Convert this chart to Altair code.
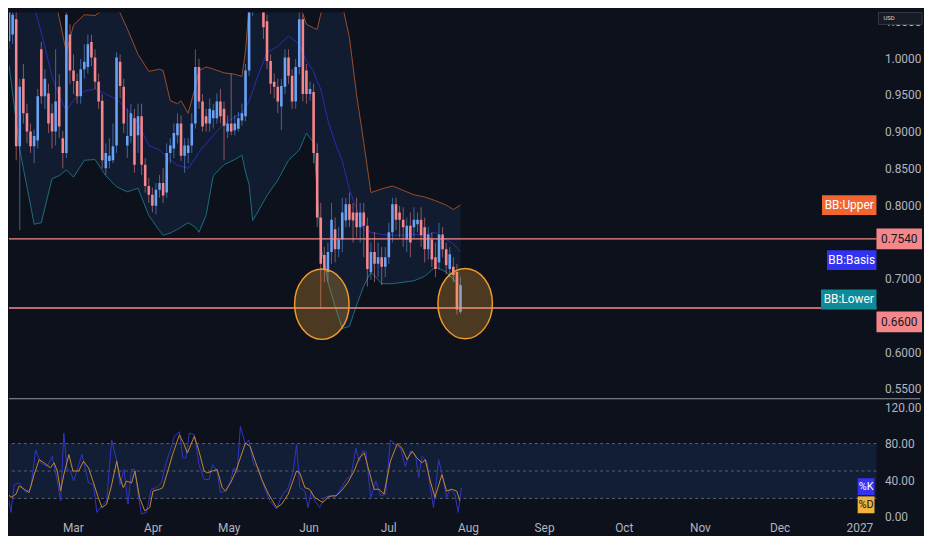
import altair as alt
import pandas as pd

# ---------------- data ----------------
# bar index 0 = first trading day of February
bars = list(range(127))
opens = [1.023, 1.032, 1.053, 0.880, 0.972, 0.925, 0.900, 0.880, 0.888, 1.012,
         0.948, 0.952, 0.925, 0.900, 0.961, 0.891, 0.871, 1.032, 0.983, 0.969,
         0.948, 0.985, 0.988, 1.022, 1.001, 0.968, 0.942, 0.850, 0.860, 0.861,
         0.881, 0.995, 0.961, 0.881, 0.894, 0.918, 0.895, 0.921, 0.855, 0.826,
         0.814, 0.799, 0.821, 0.830, 0.817, 0.871, 0.877, 0.895, 0.911, 0.867,
         0.871, 0.881, 0.911, 0.988, 0.941, 0.921, 0.911, 0.918, 0.918, 0.941,
         0.931, 0.900, 0.911, 0.902, 0.904, 0.915, 0.921, 0.983, 1.063, 1.100,
         1.107, 1.073, 1.050, 0.996, 0.968, 0.961, 0.934, 0.961, 1.001, 0.976,
         0.941, 0.988, 1.053, 0.983, 0.951, 0.954, 0.871, 0.783, 0.732, 0.709,
         0.736, 0.767, 0.740, 0.753, 0.779, 0.801, 0.790, 0.790, 0.770, 0.790,
         0.772, 0.709, 0.736, 0.720, 0.729, 0.716, 0.729, 0.763, 0.801, 0.790,
         0.780, 0.753, 0.772, 0.770, 0.774, 0.780, 0.770, 0.740, 0.753, 0.729,
         0.722, 0.760, 0.740, 0.713, 0.716, 0.709, 0.655]
highs = [1.086, 1.073, 1.066, 0.972, 0.992, 0.938, 0.911, 0.903, 0.958, 1.022,
         0.985, 0.965, 0.938, 1.012, 0.978, 0.901, 1.086, 1.046, 1.005, 0.979,
         0.999, 1.019, 1.032, 1.032, 1.012, 0.979, 0.951, 0.884, 0.891, 0.911,
         1.008, 1.005, 0.972, 0.931, 0.938, 0.931, 0.938, 0.938, 0.864, 0.837,
         0.824, 0.830, 0.841, 0.850, 0.884, 0.891, 0.911, 0.925, 0.922, 0.891,
         0.891, 0.925, 1.012, 0.999, 0.951, 0.931, 0.945, 0.938, 0.952, 0.958,
         0.941, 0.922, 0.979, 0.922, 0.927, 0.938, 0.992, 1.073, 1.113, 1.133,
         1.120, 1.086, 1.059, 1.005, 0.979, 0.972, 0.972, 1.012, 1.012, 0.985,
         0.999, 1.066, 1.059, 0.992, 0.968, 0.965, 0.884, 0.803, 0.743, 0.749,
         0.803, 0.783, 0.770, 0.810, 0.810, 0.817, 0.803, 0.810, 0.803, 0.803,
         0.783, 0.749, 0.763, 0.749, 0.743, 0.743, 0.776, 0.810, 0.810, 0.799,
         0.797, 0.783, 0.790, 0.797, 0.790, 0.797, 0.783, 0.770, 0.763, 0.749,
         0.776, 0.770, 0.749, 0.743, 0.729, 0.720, 0.702]
lows = [1.012, 1.019, 0.861, 0.766, 0.911, 0.884, 0.871, 0.857, 0.877, 0.938,
        0.931, 0.898, 0.877, 0.881, 0.891, 0.850, 0.864, 0.965, 0.951, 0.938,
        0.938, 0.972, 0.979, 0.989, 0.958, 0.931, 0.850, 0.841, 0.850, 0.857,
        0.871, 0.945, 0.898, 0.864, 0.884, 0.844, 0.871, 0.841, 0.817, 0.803,
        0.790, 0.787, 0.810, 0.803, 0.810, 0.857, 0.864, 0.884, 0.860, 0.844,
        0.857, 0.871, 0.904, 0.931, 0.900, 0.900, 0.900, 0.904, 0.911, 0.911,
        0.861, 0.891, 0.895, 0.895, 0.900, 0.908, 0.914, 0.976, 1.057, 1.086,
        1.066, 1.026, 0.985, 0.951, 0.945, 0.925, 0.902, 0.951, 0.965, 0.931,
        0.931, 0.978, 0.941, 0.938, 0.942, 0.857, 0.770, 0.659, 0.695, 0.695,
        0.720, 0.722, 0.729, 0.736, 0.770, 0.770, 0.749, 0.756, 0.749, 0.729,
        0.689, 0.698, 0.695, 0.702, 0.691, 0.702, 0.720, 0.749, 0.766, 0.756,
        0.743, 0.736, 0.729, 0.756, 0.763, 0.743, 0.722, 0.726, 0.716, 0.702,
        0.712, 0.729, 0.706, 0.702, 0.695, 0.651, 0.652]
closes = [1.073, 1.059, 0.880, 0.961, 0.925, 0.900, 0.880, 0.894, 0.948, 0.948,
          0.972, 0.911, 0.900, 0.941, 0.907, 0.871, 1.059, 0.983, 0.969, 0.948,
          0.985, 0.995, 1.019, 1.001, 0.968, 0.941, 0.861, 0.871, 0.867, 0.880,
          1.001, 0.962, 0.911, 0.894, 0.925, 0.855, 0.921, 0.855, 0.826, 0.814,
          0.799, 0.821, 0.830, 0.813, 0.871, 0.881, 0.898, 0.911, 0.867, 0.881,
          0.881, 0.911, 0.988, 0.941, 0.907, 0.911, 0.931, 0.929, 0.941, 0.921,
          0.908, 0.911, 0.900, 0.911, 0.918, 0.925, 0.983, 1.063, 1.100, 1.120,
          1.080, 1.042, 0.996, 0.965, 0.961, 0.941, 0.962, 1.001, 0.976, 0.941,
          0.988, 1.053, 0.951, 0.951, 0.958, 0.871, 0.783, 0.720, 0.712, 0.736,
          0.780, 0.740, 0.753, 0.790, 0.801, 0.780, 0.779, 0.770, 0.790, 0.772,
          0.713, 0.736, 0.720, 0.729, 0.716, 0.729, 0.763, 0.801, 0.780, 0.780,
          0.770, 0.772, 0.749, 0.780, 0.780, 0.759, 0.740, 0.760, 0.726, 0.713,
          0.760, 0.740, 0.718, 0.733, 0.705, 0.658, 0.691]

bb_bar = [0, 3, 6, 7, 9, 12, 14, 16, 18, 21, 24, 27, 30, 33, 36, 39, 42, 43, 45, 47,
          48, 50, 52, 53, 55, 57, 60, 63, 65, 66, 67, 68, 69, 72, 75, 78, 81, 83, 85, 86,
          87, 89, 91, 93, 95, 97, 99, 101, 104, 107, 110, 113, 116, 119, 122, 124, 126]
bb_upper = [1.160, 1.150, 1.140, 1.135, 1.120, 1.100, 1.055, 1.008, 1.045, 1.059,
            1.058, 1.069, 1.072, 1.040, 1.005, 0.982, 0.985, 0.983, 0.942, 0.938,
            0.942, 0.925, 0.961, 0.983, 0.988, 0.985, 0.980, 0.978, 0.975, 1.010,
            1.070, 1.110, 1.140, 1.190, 1.200, 1.130, 1.075, 1.046, 1.041, 1.039,
            1.060, 1.090, 1.100, 1.073, 1.028, 0.950, 0.885, 0.817, 0.822, 0.826,
            0.820, 0.814, 0.811, 0.806, 0.800, 0.794, 0.800]
bb_basis = [1.130, 1.110, 1.080, 1.070, 1.035, 0.975, 0.948, 0.928, 0.943, 0.955,
            0.958, 0.951, 0.944, 0.930, 0.912, 0.881, 0.875, 0.870, 0.862, 0.854,
            0.853, 0.850, 0.864, 0.872, 0.884, 0.895, 0.911, 0.920, 0.925, 0.932,
            0.942, 0.955, 0.970, 1.008, 1.016, 1.030, 1.019, 0.996, 0.982, 0.968,
            0.958, 0.915, 0.885, 0.860, 0.821, 0.795, 0.767, 0.763, 0.760, 0.759,
            0.759, 0.760, 0.759, 0.763, 0.753, 0.747, 0.736]
bb_lower = [0.990, 0.875, 0.800, 0.774, 0.776, 0.836, 0.840, 0.848, 0.838, 0.861,
            0.862, 0.840, 0.825, 0.818, 0.823, 0.786, 0.765, 0.759, 0.762, 0.767,
            0.770, 0.776, 0.770, 0.763, 0.786, 0.840, 0.855, 0.862, 0.868, 0.845,
            0.828, 0.779, 0.787, 0.813, 0.834, 0.861, 0.875, 0.898, 0.885, 0.820,
            0.745, 0.695, 0.662, 0.632, 0.635, 0.664, 0.690, 0.709, 0.693, 0.693,
            0.695, 0.697, 0.703, 0.716, 0.709, 0.699, 0.689]

k_bar = [-0.8, 0.5, 1.9, 2.8, 4.2, 6.0, 7.4, 8.7, 10.1, 11.9, 13.3, 14.7, 15.6, 16.5, 17.4,
         18.3, 19.2, 20.6, 21.5, 22.4, 23.3, 24.7, 25.6, 27.0, 28.3, 29.7, 31.1, 32.0, 33.1,
         34.2, 35.2, 36.1, 37.0, 37.9, 39.3, 40.6, 42.0, 43.4, 44.7, 46.1, 47.0, 48.4, 49.3,
         50.2, 51.1, 52.5, 53.8, 55.2, 56.6, 57.5, 58.8, 59.7, 61.1, 62.5, 63.4, 64.3, 65.2,
         66.6, 67.5, 68.9, 70.2, 72.0, 73.4, 75.2, 76.6, 78.4, 79.8, 80.7, 81.6, 83.0, 83.9,
         84.8, 85.7, 87.1, 88.4, 89.8, 91.2, 92.5, 94.4, 95.7, 97.1, 98.0, 98.9, 99.8, 101.2,
         102.6, 103.9, 105.3, 106.6, 108.0, 109.4, 110.7, 112.1, 113.5, 114.4, 115.3, 116.7,
         117.6, 118.5, 119.9, 121.2, 122.1, 123.0, 124.4, 125.3, 126.2]
k_val = [28, 39, 4.7, 35, 37, 26.4, 31.8, 73, 59, 55, 66, 39, 17.3, 91.4, 51.7,
         50, 39, 57, 68, 53.5, 37, 35, 4.7, 12, 17.3, 84, 60.7, 35, 51.7,
         13.7, 51.7, 51.7, 24.6, 2.9, 4.7, 30, 31.8, 37, 59, 75, 88, 93, 64.3,
         64.3, 91.4, 89.6, 57, 40.8, 40.8, 57, 50, 26.4, 28, 39, 53.5, 48, 98.7,
         78.8, 84, 57, 53.5, 30, 17.3, 8.3, 22.8, 31.8, 50, 78.8, 31.8, 28, 10,
         28, 17.3, 10, 21, 22.8, 21, 28, 40.8, 44.5, 75, 60.7, 71.6, 71.6, 21,
         39, 22.8, 24.6, 84, 78.8, 75, 55, 71.6, 68, 42.6, 66, 60.7,
         31.8, 10, 62.5, 40.8, 21, 30, 24.6, 4.7, 31.8]
d_bar = [-0.8, 0.5, 1.9, 3.3, 4.2, 5.6, 6.9, 8.3, 9.7, 11.0, 12.8, 13.8, 14.7, 15.6, 16.5,
         17.9, 19.0, 20.6, 21.9, 23.3, 24.7, 26.0, 27.0, 28.3, 29.7, 31.1, 32.0, 32.9, 33.8,
         35.2, 36.1, 37.4, 38.8, 40.2, 41.1, 42.9, 43.8, 45.2, 46.5, 48.4, 49.7, 50.6, 52.5,
         53.8, 55.2, 56.1, 57.5, 58.8, 60.2, 61.1, 62.5, 63.8, 65.2, 66.6, 67.9, 69.3, 71.1,
         73.0, 75.2, 76.6, 78.4, 80.7, 81.6, 83.0, 84.3, 85.7, 88.0, 89.3, 90.3, 91.6, 93.0,
         94.8, 96.6, 98.0, 99.4, 100.7, 102.1, 103.5, 104.8, 106.6, 108.5, 109.8, 111.2, 112.6,
         113.9, 115.3, 116.2, 117.6, 118.9, 120.8, 122.1, 123.5, 124.9, 125.8]
d_val = [13.7, 28, 21, 24.6, 33.6, 30, 26.4, 46, 62.5, 59, 53.5, 59, 50, 28, 46,
         68, 50, 50, 60.7, 53.5, 37, 21, 10, 13.7, 35, 60.7, 42.6, 31.8, 39,
         37, 50, 21, 6.5, 10, 28, 30, 31.8, 50, 68, 89.6, 78.8, 69.7, 88,
         71.6, 50, 48, 50, 51.7, 31.8, 28, 37, 48, 64.3, 80.6, 77, 60.7, 40.8,
         24.6, 10, 13.7, 24.6, 50, 48, 31.8, 30, 21, 15.5, 21, 22.8, 22.8, 28,
         37, 50, 64.3, 69.7, 50, 30, 30, 24.6, 60.7, 79.9, 75, 62.5, 71.6,
         64.3, 59, 62.5, 39, 21, 46, 28, 30, 28, 17.3]

month_bar = [0, 19, 41, 62, 84, 106, 128, 149, 171, 192, 214, 236]
month_lbl = ["Feb", "Mar", "Apr", "May", "Jun", "Jul", "Aug", "Sep", "Oct", "Nov", "Dec", "2027"]
# 0.75 and 0.65 are hidden behind the price tags in the reference
price_ticks = [0.55, 0.60, 0.70, 0.80, 0.85, 0.90, 0.95, 1.00, 1.05]
stoch_ticks = [0, 40, 80, 120]
stoch_levels = [20, 50, 80]
hlines = [0.754, 0.660]
circle_bar = [87.3, 127.3]
circle_price = [0.6651, 0.6660]

# ---------------- style ----------------
BG = "#0d111c"
LBL = "#b2b5be"
UP = "#6aa3f5"
DOWN = "#f5868b"
FONT = "Roboto"
W = 876
H_MAIN = 389
H_STOCH = 120

x_scale = alt.Scale(domain=[1.366, 240.71], nice=False, zero=False)
y_scale = alt.Scale(domain=[0.5378, 1.0620], nice=False, zero=False)
s_scale = alt.Scale(domain=[-1.0, 129.1], nice=False, zero=False)

candles = pd.DataFrame({"bar": bars, "open": opens, "high": highs, "low": lows, "close": closes})
bb = pd.DataFrame({"bar": bb_bar, "upper": bb_upper, "basis": bb_basis, "lower": bb_lower})
kdf = pd.DataFrame({"bar": k_bar, "v": k_val})
ddf = pd.DataFrame({"bar": d_bar, "v": d_val})
hdf = pd.DataFrame({"price": hlines})
cdf = pd.DataFrame({"bar": circle_bar, "price": circle_price})

main_axis = alt.Axis(orient="right", values=price_ticks, format=".4f", ticks=False, domain=False,
                     grid=False, labelColor=LBL, labelFontSize=12, labelFont=FONT,
                     labelPadding=8, title=None, labelOverlap=False)
s_axis = alt.Axis(orient="right", values=stoch_ticks, format=".2f", ticks=False, domain=False,
                  grid=False, labelColor=LBL, labelFontSize=12, labelFont=FONT,
                  labelPadding=8, title=None, labelOverlap=False)
label_expr = " : ".join(f"datum.value == {b} ? '{l}'" for b, l in zip(month_bar, month_lbl)) + " : ''"
x_axis = alt.Axis(values=month_bar, labelExpr=label_expr, ticks=False, domain=False, grid=False,
                  labelColor=LBL, labelFontSize=12, labelFont=FONT, labelPadding=5,
                  title=None, labelFlush=False, labelOverlap=False)


def YM(field):
    return alt.Y(field, scale=y_scale, axis=main_axis)


def YS(field):
    return alt.Y(field, scale=s_scale, axis=s_axis)


X = alt.X("bar:Q", scale=x_scale, axis=None)
XS = alt.X("bar:Q", scale=x_scale, axis=x_axis)
updown = alt.condition("datum.close >= datum.open", alt.value(UP), alt.value(DOWN))

band = alt.Chart(bb).mark_area(color="#132038", opacity=0.75, clip=True).encode(
    x=X, y=YM("upper:Q"), y2="lower:Q")
up_line = alt.Chart(bb).mark_line(color="#9c4d2c", strokeWidth=1, clip=True).encode(
    x=X, y=YM("upper:Q"))
mid_line = alt.Chart(bb).mark_line(color="#2a2db3", strokeWidth=1, clip=True).encode(
    x=X, y=YM("basis:Q"))
lo_line = alt.Chart(bb).mark_line(color="#1c6f7a", strokeWidth=1, clip=True).encode(
    x=X, y=YM("lower:Q"))

wicks = alt.Chart(candles).mark_rule(strokeWidth=1, opacity=0.55, clip=True).encode(
    x=X, y=YM("low:Q"), y2="high:Q", color=updown)
bodies = alt.Chart(candles).mark_bar(size=2.6, clip=True).encode(
    x=X, y=YM("open:Q"), y2="close:Q", color=updown)

hrules = alt.Chart(hdf).mark_rule(color="#f28b8d", strokeWidth=1.4).encode(y=YM("price:Q"))

ELL = "M -0.775 0 A 0.775 1 0 1 1 0.775 0 A 0.775 1 0 1 1 -0.775 0 Z"
circles = alt.Chart(cdf).mark_point(shape=ELL, size=5041, filled=True, color="#f0a030",
                                    fillOpacity=0.28, stroke="#f09a2a", strokeWidth=1.5,
                                    strokeOpacity=1, opacity=1, clip=True).encode(
    x=X, y=YM("price:Q"))


def box_path(w, h):
    r = h / w
    return f"M -1 {-r:.4f} L 1 {-r:.4f} L 1 {r:.4f} L -1 {r:.4f} Z"


def tag(value, text, px, box_color, text_color, w, h, yfun, yoff=0, fs=12):
    base = alt.Chart(pd.DataFrame({"v": [value], "t": [text]}))
    box = base.mark_point(shape=box_path(w, h), size=w * w, filled=True, color=box_color,
                          opacity=1, yOffset=yoff).encode(x=alt.value(px), y=yfun("v:Q"))
    txt = base.mark_text(color=text_color, fontSize=fs, font=FONT, align="center",
                         baseline="middle", yOffset=yoff).encode(
        x=alt.value(px), y=yfun("v:Q"), text="t:N")
    return [box, txt]


labels = []
labels += tag(bb_upper[-1], "BB:Upper", W - 27.5, "#f26430", "#ffffff", 55, 20, YM, 0)
labels += tag(bb_basis[-1], "BB:Basis", W - 25, "#3232f0", "#ffffff", 50, 20, YM, 8)
labels += tag(bb_lower[-1], "BB:Lower", W - 28, "#0f8a98", "#ffffff", 56, 20, YM, 13)
labels += tag(hlines[0], f"{hlines[0]:.4f}", W + 23, "#f5878a", "#131722", 46, 21, YM, 0)
labels += tag(hlines[1], f"{hlines[1]:.4f}", W + 23, "#f5878a", "#131722", 46, 21, YM, 14)

usd = alt.Chart(pd.DataFrame({"t": ["USD"]}))
usd_box = usd.mark_point(shape=box_path(44, 12), size=44 * 44, filled=True, color="#161a25",
                         stroke="#363a45", strokeWidth=1, opacity=1).encode(
    x=alt.value(W + 24), y=alt.value(6))
usd_txt = usd.mark_text(color="#d1d4dc", fontSize=6, font=FONT, align="left",
                        baseline="middle").encode(x=alt.value(W + 7), y=alt.value(6), text="t:N")

main = alt.layer(band, up_line, mid_line, lo_line, wicks, bodies, hrules, circles,
                 *labels, usd_box, usd_txt).properties(width=W, height=H_MAIN)

# ---------------- stochastic pane ----------------
sband = alt.Chart(pd.DataFrame({"lo": [stoch_levels[0]], "hi": [stoch_levels[-1]]})).mark_rect(
    color="#12203a", opacity=0.9).encode(
    x=alt.value(0), x2=alt.value(W), y=YS("lo:Q"), y2="hi:Q")
slevels = alt.Chart(pd.DataFrame({"lvl": stoch_levels})).mark_rule(
    color="#5d6170", strokeDash=[3, 3], strokeWidth=1).encode(y=YS("lvl:Q"))
k_line = alt.Chart(kdf).mark_line(color="#3236c8", strokeWidth=1, clip=True).encode(
    x=XS, y=YS("v:Q"))
d_line = alt.Chart(ddf).mark_line(color="#c8892c", strokeWidth=1, clip=True).encode(
    x=XS, y=YS("v:Q"))
sep = alt.Chart(pd.DataFrame({"a": [0]})).mark_rule(color="#9598a1", strokeWidth=1).encode(
    x=alt.value(0), x2=alt.value(W + 44), y=alt.value(0))

slabels = []
slabels += tag(k_val[-1], "%K", W - 10.5, "#3333f2", "#ffffff", 17, 17, YS, -1, 11)
slabels += tag(d_val[-1], "%D", W - 10.5, "#f2b33c", "#131722", 17, 17, YS, 4, 11)

stoch = alt.layer(sband, slevels, k_line, d_line, sep, *slabels).properties(width=W, height=H_STOCH)

chart = alt.vconcat(main, stoch, spacing=0).properties(
    background=BG, padding=0
).configure_view(stroke=None).configure_text(font=FONT)

chart.save("out.html", embed_options={"renderer": "svg", "actions": False})
